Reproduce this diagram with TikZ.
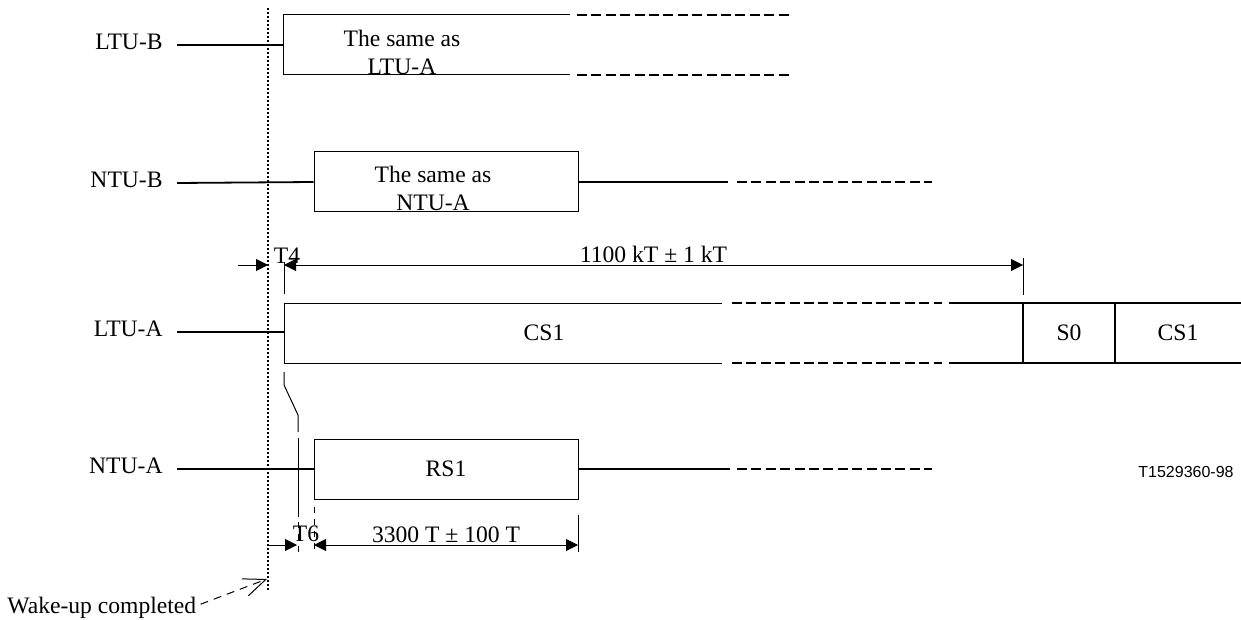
\documentclass[tikz,border=0pt]{standalone}
\usepackage{fontspec}
\setmainfont{Liberation Serif}
\newfontfamily\figsans{Liberation Sans}
\usetikzlibrary{positioning, arrows.meta}

\begin{document}
\begin{tikzpicture}[x=0.5pt, y=-0.5pt,
      font=\fontsize{11.8}{14}\selectfont,
      sig/.style={line width=0.9pt},
      thin/.style={line width=0.5pt},
      brk/.style={line width=0.9pt, dash pattern=on 5pt off 2.2pt},
      box/.style={draw, line width=0.5pt, minimum width=132pt, minimum height=30pt, inner sep=0pt},
      lbl/.style={inner sep=0pt},
      dim/.style={line width=0.5pt, {Triangle[length=6pt, width=6pt]}-{Triangle[length=6pt, width=6pt]}},
      ext/.style={line width=0.5pt, dash pattern=on 3pt off 3pt}]

    \useasboundingbox (0,0) rectangle (1241,620);

    % signal names
    \coordinate (ltubin) at (177,45);
    \coordinate (ntubin) at (177,183);
    \coordinate (ltuain) at (177,332);
    \coordinate (ntuain) at (177,469);
    \node[lbl, left=7pt of ltubin, yshift=1.5pt] (ltub) {LTU-B};
    \node[lbl, left=7pt of ntubin, yshift=1.5pt] (ntub) {NTU-B};
    \node[lbl, left=7pt of ltuain, yshift=1.5pt] (ltua) {LTU-A};
    \node[lbl, left=7pt of ntuain, yshift=1.5pt] (ntua) {NTU-A};

    % wake-up instant
    \draw[line width=1pt, dash pattern=on 1pt off 1pt] (268,8) coordinate (wtop) -- (268,592) coordinate (wbot);

    % LTU-B
    \coordinate (ltubL) at (283,45);
    \draw[sig] (ltubin) -- (ltubL);
    \draw[thin] (570,15) -- (283,15) -- (283,75) -- (570,75);
    \draw[brk] (577,15) -- (790,15);
    \draw[brk] (577,75) -- (790,75);
    \node[align=center] (ltubtxt) at (402,52) {The same as\\LTU-A};

    % NTU-B
    \node[box] (ntubbox) at (446,182) {};
    \node[align=center] (ntubtxt) at (433,188) {The same as\\NTU-A};
    \draw[sig] (ntubin) -- (ntubbox.west);
    \coordinate (ntubend) at (728,182);
    \draw[sig] (ntubbox.east) -- (ntubend);
    \draw[brk] (737,182) -- (932,182);

    % T4 and 1100 kT
    \coordinate (cs1start) at (284,265);
    \coordinate (cs1end) at (1023,265);
    \draw[thin, -{Triangle[length=6pt, width=6pt]}] (238,265) -- (wtop |- cs1start);
    \draw[dim] (cs1start) -- node[above=1pt, lbl] (len1) {1100 kT ± 1 kT} (cs1end);
    \node[lbl] (tfour) at (287,256) {T4};
    \draw[thin] (284,262) -- (284,294);
    \draw[thin] (1023,258) -- (1023,295);

    % LTU-A
    \coordinate (ltuaL) at (284,332);
    \draw[sig] (ltuain) -- (ltuaL);
    \draw[thin] (722,303) -- (284,303) -- (284,363) -- (722,363);
    \draw[brk] (732,303) -- (942,303);
    \draw[brk] (732,363) -- (942,363);
    \draw[sig] (949,303) -- (1241,303);
    \draw[sig] (949,363) -- (1241,363);
    \draw[sig] (1023,303) -- (1023,363);
    \draw[sig] (1115,303) -- (1115,363);
    \node (cs1) at (544,333) {CS1};
    \node (szero) at (1069,333) {S0};
    \node (cs1b) at (1178,333) {CS1};

    % T6 delay
    \draw[thin] (284,372) -- (284,385) -- (298,415) -- (298,432);
    \draw[thin] (298,438) -- (298,517);
    \draw[ext] (298,522) -- (298,552);

    % NTU-A
    \node[box] (rs1) at (446,469) {RS1};
    \draw[sig] (ntuain) -- (rs1.west);
    \coordinate (ntuaend) at (730,469);
    \draw[sig] (rs1.east) -- (ntuaend);
    \draw[brk] (737,469) -- (932,469);
    \node[font=\figsans\fontsize{8}{10}\selectfont] (ref) at (1186,472) {T1529360-98};

    % T6 and 3300 T
    \coordinate (rs1start) at (314,545);
    \coordinate (rs1end) at (578,545);
    \draw[ext] (314,507) -- (314,552);
    \draw[thin] (578,515) -- (578,552);
    \draw[thin, -{Triangle[length=6pt, width=6pt]}] (wbot |- rs1start) -- (297,545);
    \draw[dim] (rs1start) -- node[above=1pt, lbl] (len2) {3300 T ± 100 T} (rs1end);
    \node[lbl] (tsix) at (306,534) {T6};

    % wake-up note
    \node[lbl, anchor=base west] (wake) at (7,613) {Wake-up completed};
    \coordinate (wakept) at (267,579);
    \draw[thin, dash pattern=on 4pt off 3pt, -{Straight Barb[length=11pt, width=9pt]}] ([xshift=2pt, yshift=-4pt]wake.north east) -- (wakept);
  \end{tikzpicture}
\end{document}
